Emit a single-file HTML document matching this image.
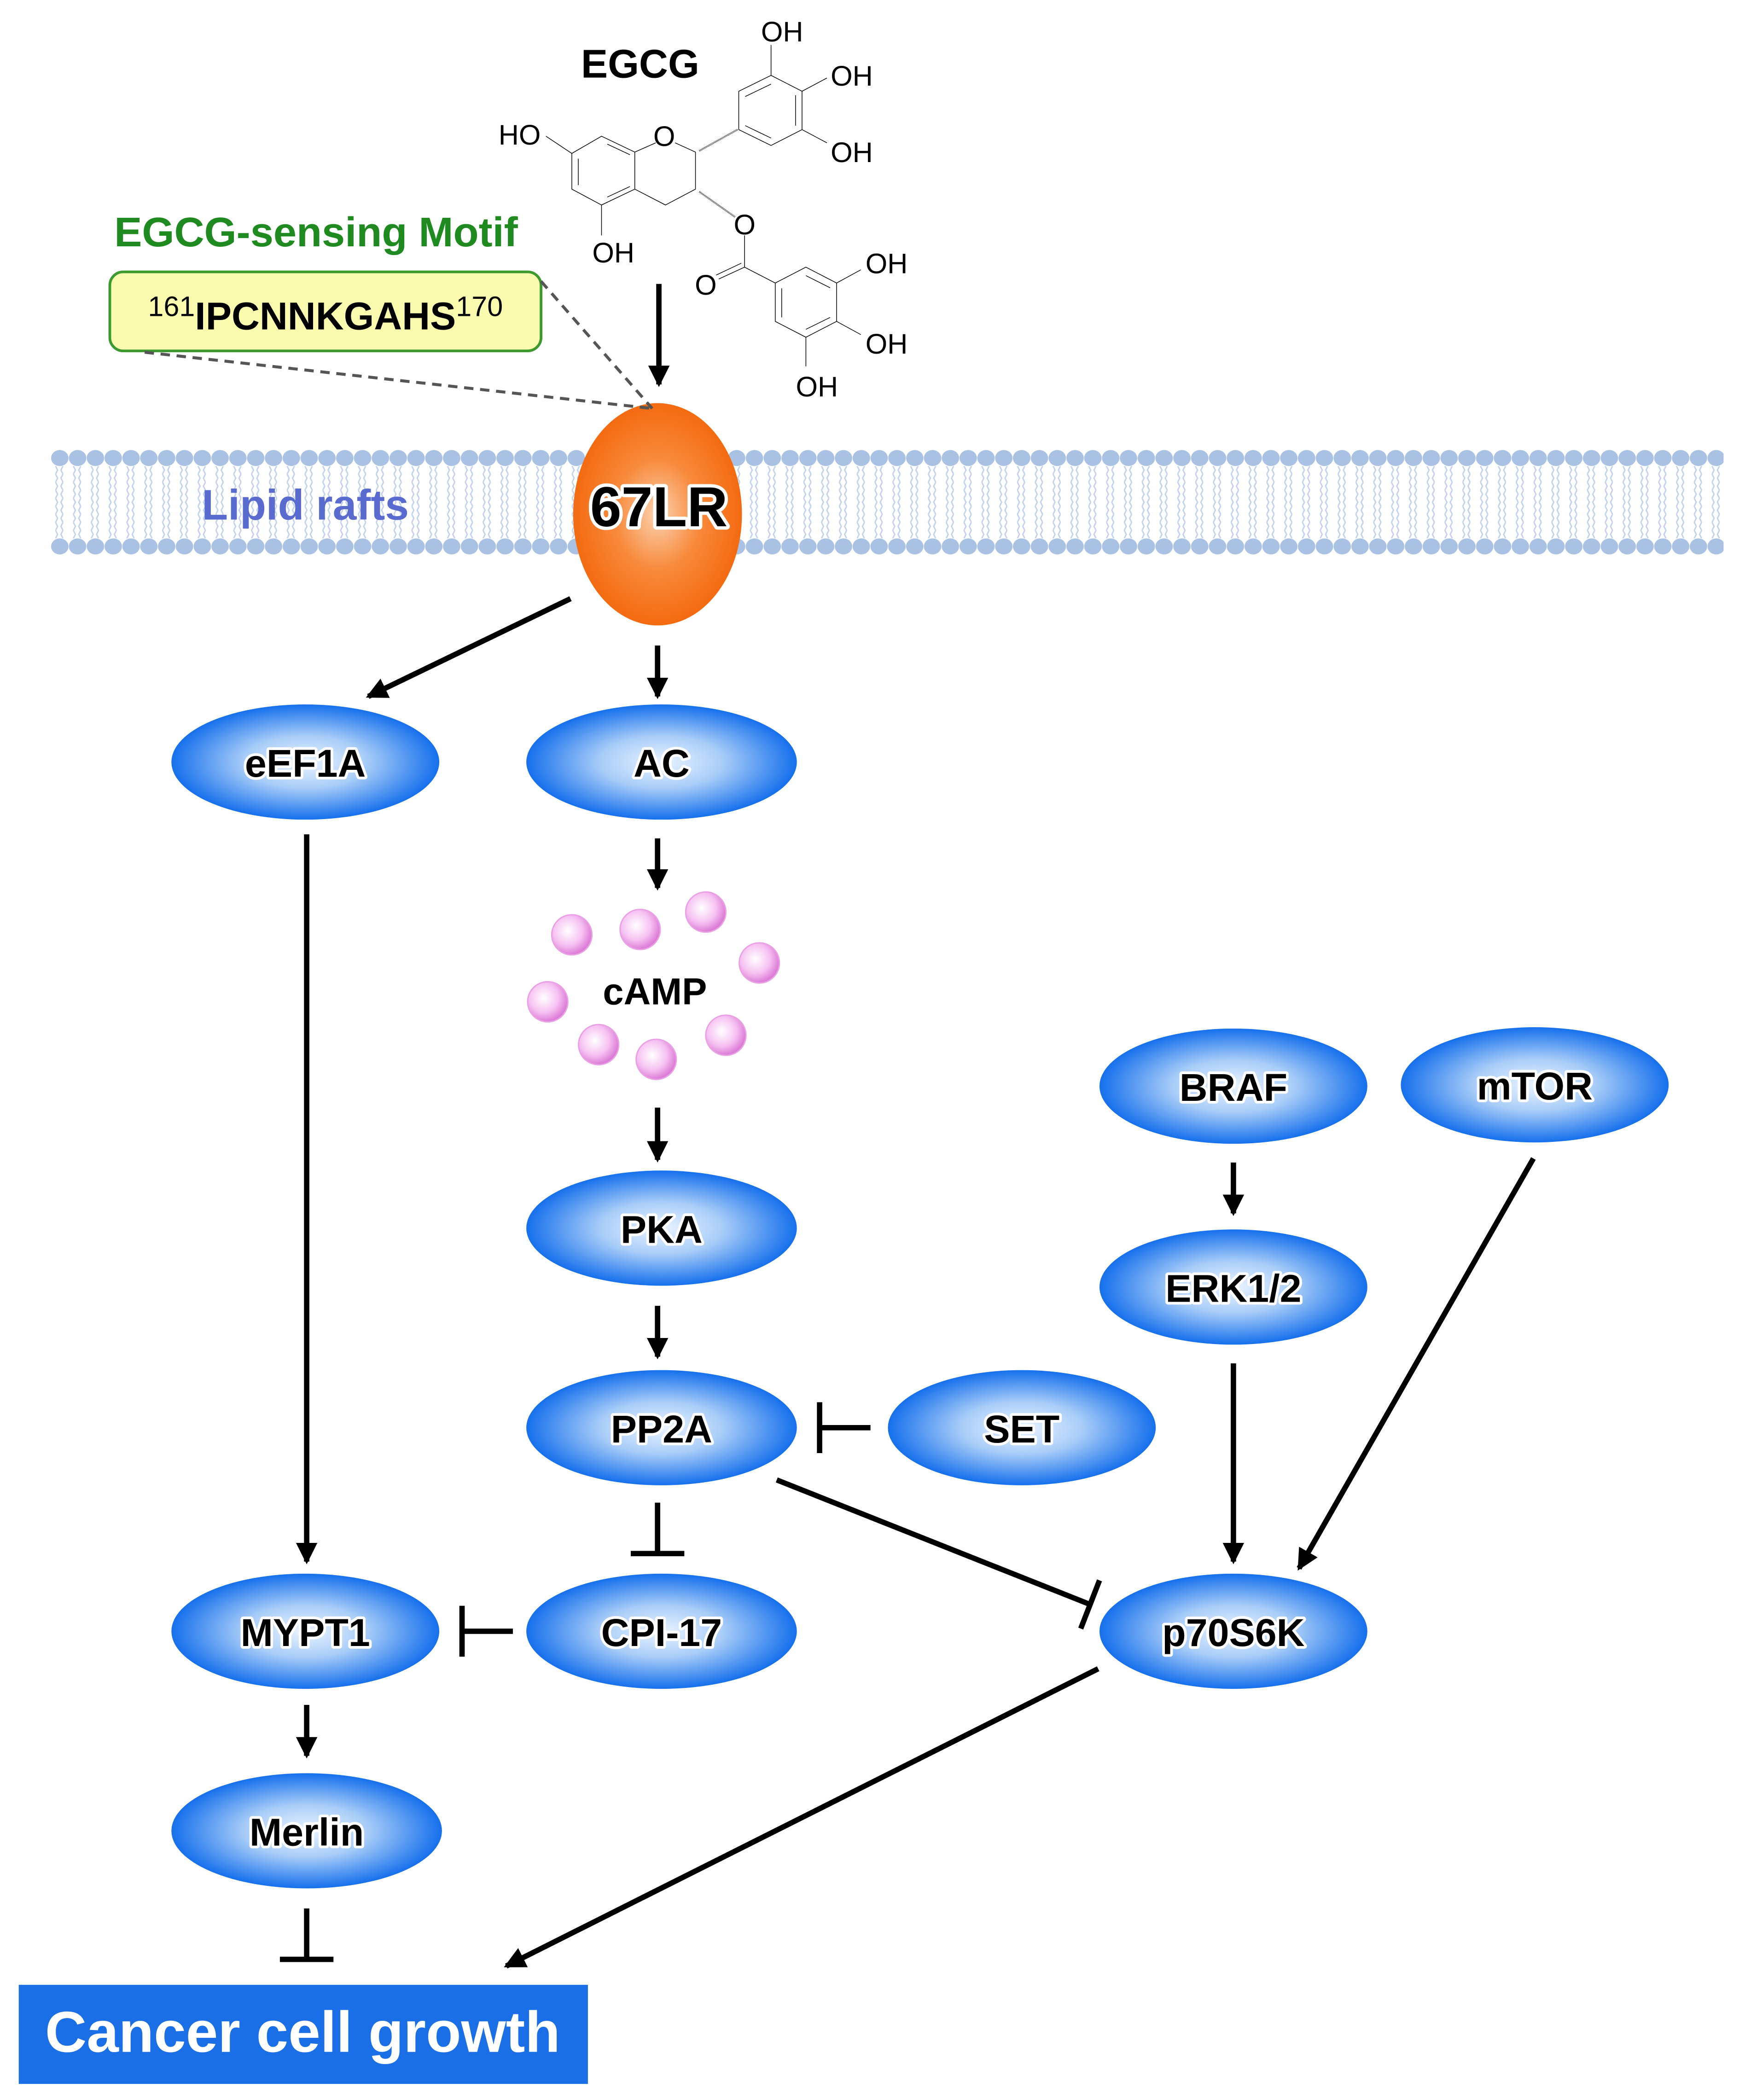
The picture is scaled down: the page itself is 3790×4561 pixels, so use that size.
<!DOCTYPE html>
<html><head><meta charset="utf-8"><style>
html,body{margin:0;padding:0;background:#fff}
svg{display:block}
text{font-family:"Liberation Sans",Arial,sans-serif}
</style></head><body>
<svg width="3790" height="4561" viewBox="0 0 1303 1568" preserveAspectRatio="none" xmlns="http://www.w3.org/2000/svg">
<defs>
<radialGradient id="bl" cx="50%" cy="50%" r="50%">
<stop offset="0" stop-color="#eaf4ff"/><stop offset="0.45" stop-color="#a9cdf8"/><stop offset="1" stop-color="#1670ec"/>
</radialGradient>
<radialGradient id="or" cx="50%" cy="50%" r="50%">
<stop offset="0" stop-color="#fbd2b0"/><stop offset="0.5" stop-color="#f88a3c"/><stop offset="1" stop-color="#f46a10"/>
</radialGradient>
<radialGradient id="pk" cx="40%" cy="40%" r="60%">
<stop offset="0" stop-color="#fff"/><stop offset="0.6" stop-color="#f6c2f2"/><stop offset="1" stop-color="#dc7cd6"/>
</radialGradient>
<pattern id="heads" width="13.3" height="86" patternUnits="userSpaceOnUse" x="38" y="332">
<ellipse cx="6.65" cy="10" rx="6.5" ry="6" fill="#a9c1e2"/>
<ellipse cx="6.65" cy="76" rx="6.5" ry="6" fill="#a9c1e2"/>
</pattern>
<pattern id="tails" width="13.3" height="6" patternUnits="userSpaceOnUse" x="38" y="0">
<path d="M3.5 0 L5 3 L3.5 6 M9 0 L7.5 3 L9 6" stroke="#c2d2ea" stroke-width="1" fill="none"/>
</pattern>
<marker id="ah" markerWidth="16" markerHeight="16" refX="14" refY="8" orient="auto" markerUnits="userSpaceOnUse">
<path d="M0 0 L16 8 L0 16 Z" fill="#000"/>
</marker>
</defs>

<!-- membrane -->
<rect x="38" y="348" width="1249" height="54" fill="url(#tails)"/>
<rect x="38" y="332" width="1249" height="86" fill="url(#heads)"/>
<text x="228" y="388" text-anchor="middle" font-size="32" font-weight="bold" fill="#5a6bd0">Lipid rafts</text>

<!-- 67LR -->
<ellipse cx="491" cy="384" rx="63" ry="83" fill="url(#or)"/>
<text x="492" y="393" text-anchor="middle" font-size="42" font-weight="bold" fill="#000" stroke="#fff" stroke-width="5" paint-order="stroke" stroke-linejoin="round">67LR</text>

<!-- EGCG header -->
<text x="478" y="58" text-anchor="middle" font-size="30" font-weight="bold">EGCG</text>
<text x="236" y="184" text-anchor="middle" font-size="31" font-weight="bold" fill="#1f8a1f">EGCG-sensing Motif</text>
<rect x="82" y="203" width="322" height="59" rx="10" fill="#fbfbb0" stroke="#3c9a2e" stroke-width="2"/>
<text x="243" y="246" text-anchor="middle" font-size="29" font-weight="bold"><tspan font-size="21" font-weight="normal" dy="-10">161</tspan><tspan dy="10">IPCNNKGAHS</tspan><tspan font-size="21" font-weight="normal" dy="-10">170</tspan></text>
<g stroke="#555" stroke-width="2.2" stroke-dasharray="7,5" fill="none">
<line x1="404" y1="210" x2="487" y2="305"/>
<line x1="108" y1="263" x2="487" y2="305"/>
</g>

<!-- EGCG structure -->
<g transform="translate(343.8,0) scale(0.2411,0.1975)" stroke="#000" stroke-width="1.5" fill="none" vector-effect="non-scaling-stroke">
<path vector-effect="non-scaling-stroke" d="M345 580 L437 515 L540 575 L540 715 L437 775 L345 715 Z"/>
<path vector-effect="non-scaling-stroke" d="M365 600 L365 700 M455 545 L525 585 M455 745 L525 705"/>
<path vector-effect="non-scaling-stroke" d="M540 575 L605 540 M665 540 L728 575 L728 715 L635 775 L540 715"/>
<path vector-effect="non-scaling-stroke" d="M345 580 L265 515"/>
<path vector-effect="non-scaling-stroke" d="M437 775 L437 890"/>
<path vector-effect="non-scaling-stroke" d="M862 490 L862 345 L962 285 L1058 345 L1058 490 L962 550 Z"/>
<path vector-effect="non-scaling-stroke" d="M882 365 L962 318 M1038 360 L1038 475 M882 475 L962 522"/>
<path vector-effect="non-scaling-stroke" d="M962 285 L962 170 M1058 345 L1135 295 M1058 490 L1135 540"/>
<path vector-effect="non-scaling-stroke" d="M740 570 L858 490" stroke-dasharray="1,1.6" stroke-width="4"/>
<path vector-effect="non-scaling-stroke" d="M740 725 L850 820" stroke-dasharray="1,1.6" stroke-width="4"/>
<path vector-effect="non-scaling-stroke" d="M880 890 L880 1010 L975 1070 M880 1010 L800 1055 M870 995 L792 1040"/>
<path vector-effect="non-scaling-stroke" d="M975 1070 L1070 1010 L1165 1070 L1165 1215 L1070 1275 L975 1215 Z"/>
<path vector-effect="non-scaling-stroke" d="M1070 1042 L1145 1088 M1145 1200 L1070 1245 M995 1090 L995 1200"/>
<path vector-effect="non-scaling-stroke" d="M1165 1070 L1240 1020 M1165 1215 L1240 1265 M1070 1275 L1070 1385"/>
</g>
<g font-size="21" fill="#000" text-anchor="middle">
<text x="388" y="108">HO</text>
<text x="496" y="109">O</text>
<text x="458" y="196">OH</text>
<text x="584" y="31">OH</text>
<text x="636" y="64">OH</text>
<text x="636" y="121">OH</text>
<text x="556" y="175">O</text>
<text x="527" y="220">O</text>
<text x="662" y="204">OH</text>
<text x="662" y="264">OH</text>
<text x="610" y="296">OH</text>
</g>

<!-- arrows -->
<g stroke="#000" stroke-width="4" fill="none">
<line x1="492" y1="212" x2="492" y2="287" marker-end="url(#ah)"/>
<line x1="426" y1="447" x2="275" y2="520" marker-end="url(#ah)"/>
<line x1="491" y1="482" x2="491" y2="520" marker-end="url(#ah)"/>
<line x1="491" y1="626" x2="491" y2="663" marker-end="url(#ah)"/>
<line x1="491" y1="827" x2="491" y2="866" marker-end="url(#ah)"/>
<line x1="491" y1="975" x2="491" y2="1013" marker-end="url(#ah)"/>
<line x1="229" y1="623" x2="229" y2="1166" marker-end="url(#ah)"/>
<line x1="229" y1="1273" x2="229" y2="1311" marker-end="url(#ah)"/>
<line x1="921" y1="868" x2="921" y2="906" marker-end="url(#ah)"/>
<line x1="921" y1="1018" x2="921" y2="1166" marker-end="url(#ah)"/>
<line x1="1145" y1="865" x2="970" y2="1171" marker-end="url(#ah)"/>
<line x1="820" y1="1246" x2="378" y2="1468" marker-end="url(#ah)"/>
<line x1="491" y1="1122" x2="491" y2="1160"/><line x1="471" y1="1160" x2="511" y2="1160"/>
<line x1="650" y1="1066" x2="612" y2="1066"/><line x1="612" y1="1047" x2="612" y2="1085"/>
<line x1="383" y1="1218" x2="345" y2="1218"/><line x1="345" y1="1199" x2="345" y2="1237"/>
<line x1="229" y1="1425" x2="229" y2="1463"/><line x1="209" y1="1463" x2="249" y2="1463"/>
<line x1="580" y1="1105" x2="814" y2="1198"/><line x1="821" y1="1180" x2="807" y2="1216"/>
</g>

<!-- cAMP -->
<g fill="url(#pk)" stroke="#e9a0e4" stroke-width="1">
<circle cx="427" cy="698" r="15"/><circle cx="478" cy="694" r="15"/><circle cx="527" cy="681" r="15"/>
<circle cx="567" cy="719" r="15"/><circle cx="409" cy="748" r="15"/><circle cx="447" cy="780" r="15"/>
<circle cx="490" cy="791" r="15"/><circle cx="542" cy="773" r="15"/>
</g>
<text x="489" y="750" text-anchor="middle" font-size="28" font-weight="bold">cAMP</text>

<!-- nodes -->
<g fill="url(#bl)">
<ellipse cx="228" cy="569" rx="100" ry="43"/>
<ellipse cx="494" cy="569" rx="101" ry="43"/>
<ellipse cx="494" cy="917" rx="101" ry="43"/>
<ellipse cx="494" cy="1066" rx="101" ry="43"/>
<ellipse cx="494" cy="1218" rx="101" ry="43"/>
<ellipse cx="228" cy="1218" rx="100" ry="43"/>
<ellipse cx="229" cy="1367" rx="101" ry="43"/>
<ellipse cx="921" cy="811" rx="100" ry="43"/>
<ellipse cx="1146" cy="810" rx="100" ry="43"/>
<ellipse cx="921" cy="961" rx="100" ry="43"/>
<ellipse cx="763" cy="1066" rx="100" ry="43"/>
<ellipse cx="921" cy="1218" rx="100" ry="43"/>
</g>
<g font-size="29" font-weight="bold" text-anchor="middle" fill="#000" stroke="#fff" stroke-width="4" paint-order="stroke" stroke-linejoin="round">
<text x="228" y="580">eEF1A</text>
<text x="494" y="580">AC</text>
<text x="494" y="928">PKA</text>
<text x="494" y="1077">PP2A</text>
<text x="494" y="1229">CPI-17</text>
<text x="228" y="1229">MYPT1</text>
<text x="229" y="1378">Merlin</text>
<text x="921" y="822">BRAF</text>
<text x="1146" y="821">mTOR</text>
<text x="921" y="972">ERK1/2</text>
<text x="763" y="1077">SET</text>
<text x="921" y="1229">p70S6K</text>
</g>

<!-- cancer cell growth -->
<rect x="14" y="1482" width="425" height="74" fill="#1a6fe6"/>
<text x="226" y="1532" text-anchor="middle" font-size="43" font-weight="bold" fill="#fff">Cancer cell growth</text>
</svg>
</body></html>
